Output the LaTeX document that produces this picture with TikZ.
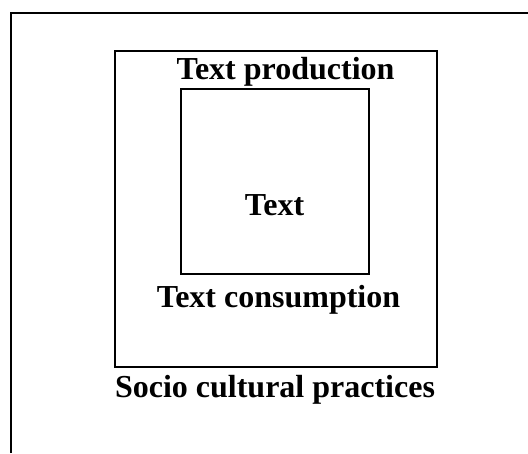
\documentclass[tikz,border=0pt]{standalone}
\usepackage{fontspec}
\setmainfont{Liberation Serif}
\begin{document}
\begin{tikzpicture}[x=1pt,y=-1pt,
  frame/.style={line width=1.4pt,draw=black},
  lbl/.style={font=\fontsize{32}{37}\selectfont\bfseries,anchor=base,inner sep=0pt}]
\useasboundingbox (0,0) rectangle (528,453);
\coordinate (ftl) at (11,13);
\coordinate (ftr) at (528,13);
\coordinate (fbl) at (11,453);
\draw[frame] (fbl) -- (ftl) -- (ftr);
\node[frame,minimum width=322pt,minimum height=316pt,inner sep=0pt] (outer) at (276,209) {};
\node[frame,minimum width=188pt,minimum height=185pt,inner sep=0pt] (inner) at (275,181.5) {};
\node[lbl] (prod) at (285.5,79) {Text production};
\node[lbl] (text) at (274.5,215) {Text};
\node[lbl] (cons) at (278.5,307) {Text consumption};
\node[lbl] (socio) at (275,397) {Socio cultural practices};
\end{tikzpicture}
\end{document}
